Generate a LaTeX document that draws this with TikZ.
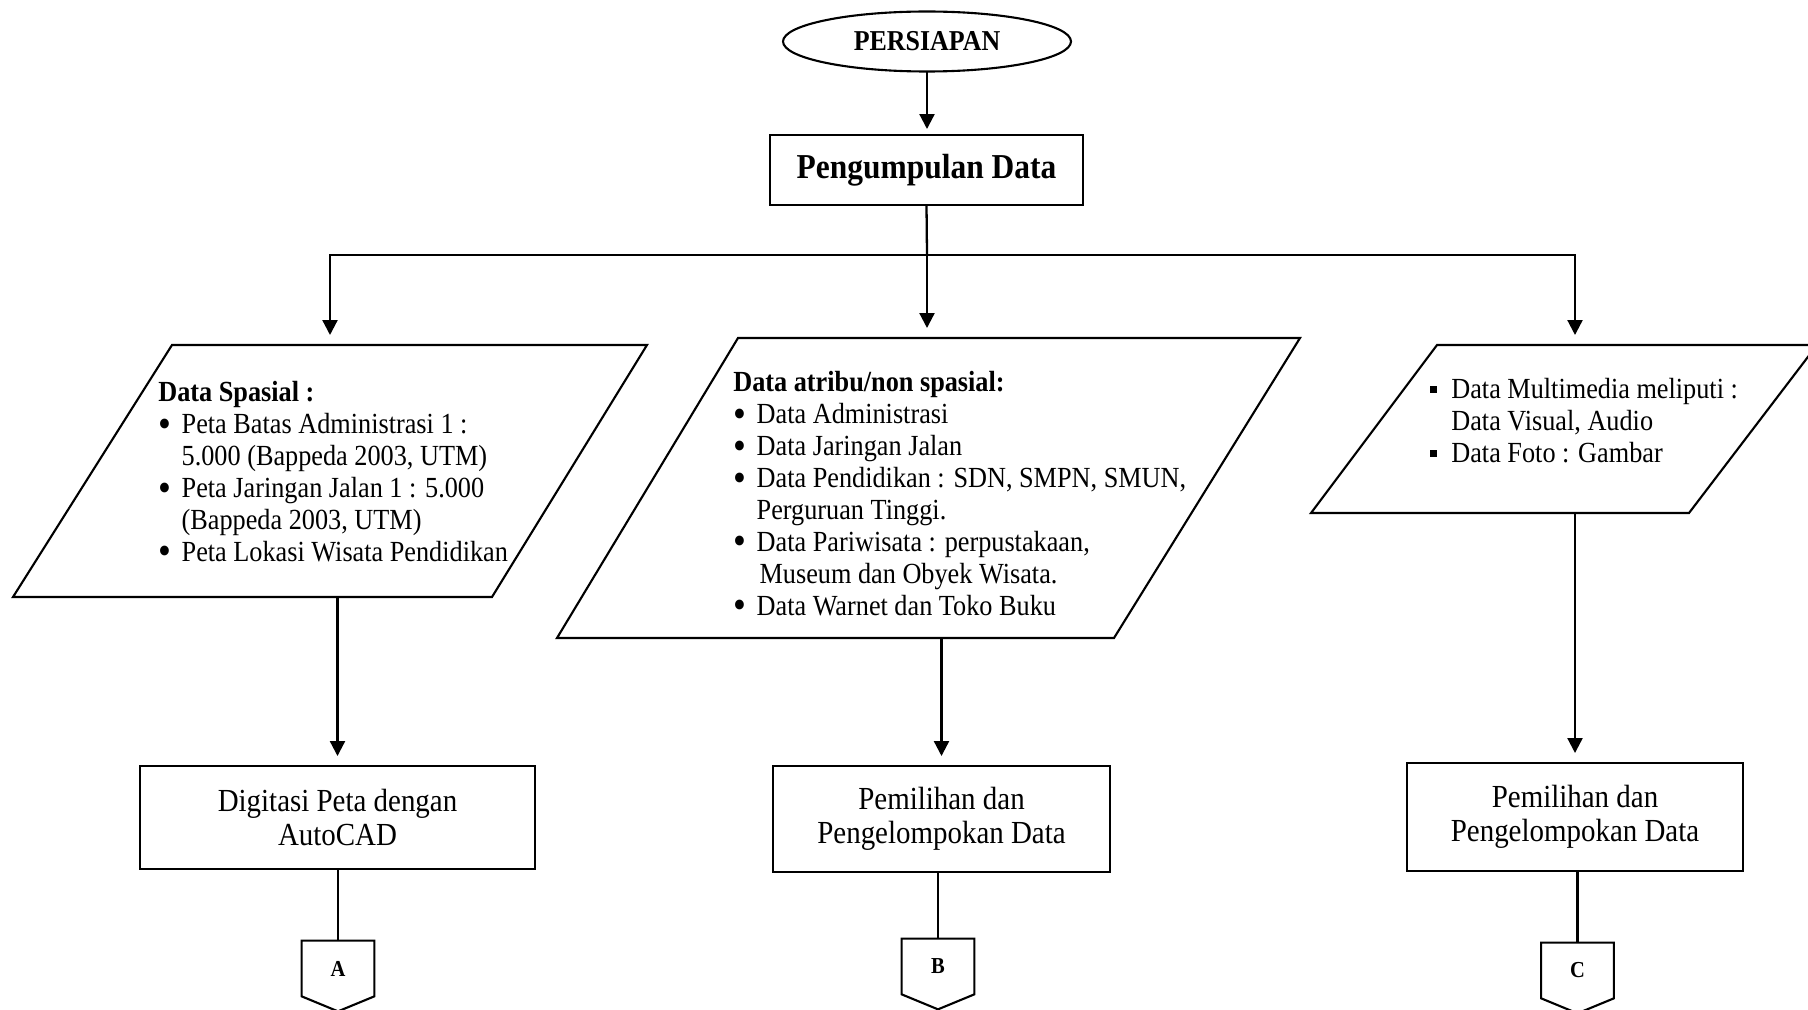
\documentclass[tikz,border=0pt]{standalone}
\usepackage{fontspec}
\usepackage{graphicx}
\setmainfont[FakeStretch=0.9]{Liberation Serif}
\usetikzlibrary{arrows.meta,shapes.geometric,calc}

\newcommand{\bul}{\makebox[0.8em][l]{\hspace{0.02em}\raisebox{-0.12em}{\scalebox{1.4}{•}}}}
\newcommand{\ind}{\hspace*{0.8em}}
\newcommand{\sqb}{\makebox[0.72em][l]{\rule[0.2em]{0.13cm}{0.13cm}}}

\tikzset{
  flowbox/.style={draw, line width=1.3pt, inner sep=0, outer sep=0, align=center,
    font=\fontsize{18.3}{19.4}\selectfont},
  inbox/.style={line width=1.2pt, line join=miter},
  listtext/.style={anchor=north west, inner sep=0, align=left,
    font=\fontsize{16.6}{18.2}\selectfont},
  offpage/.style={minimum width=1.44cm, minimum height=1.1cm, inner sep=0,
    font=\fontsize{13}{13}\selectfont\bfseries},
  link/.style={line width=1.3pt},
  arr/.style={link, -{Triangle[length=0.3cm,width=0.3cm]}, shorten >=0.2cm}
}

\begin{document}
\begin{tikzpicture}[x=0.02cm,y=-0.02cm]
\useasboundingbox (0,0) rectangle (1808,1010);
% Start
\node[ellipse, draw, line width=1.2pt, minimum width=5.76cm, minimum height=1.2cm,
  inner sep=0, outer sep=0, font=\fontsize{16.4}{16.4}\selectfont\bfseries]
  (persiapan) at (927,41.5) {PERSIAPAN};
\node[flowbox, minimum width=6.26cm, minimum height=1.4cm,
  font=\fontsize{19.9}{20}\selectfont\bfseries] (pengumpulan) at (926.5,170) {Pengumpulan Data};
\draw[arr, shorten >=0.12cm] (persiapan.south) -- (persiapan.south |- pengumpulan.north);
% Input data (parallelograms)
\draw[inbox] (172,345) coordinate (spasial) -- (647,345) -- (492,597) -- (13,597) -- cycle;
\draw[inbox] (738,338) coordinate (atribu) -- (1300,338) -- (1114,638) -- (557,638) -- cycle;
\draw[inbox] (1437,345) coordinate (multimedia) -- (1817,345) -- (1689,513) -- (1311,513) -- cycle;
\coordinate (spasialbot) at (0,597);
\coordinate (atribubot) at (0,638);
\coordinate (multimediabot) at (0,513);
\node[listtext] (spasialtxt) at (158,381) {\textbf{Data Spasial :}\\
  \bul Peta Batas Administrasi 1 :\\
  \ind 5.000 (Bappeda 2003, UTM)\\
  \bul Peta Jaringan Jalan 1 : 5.000\\
  \ind (Bappeda 2003, UTM)\\
  \bul Peta Lokasi Wisata Pendidikan};
\node[listtext] (atributxt) at (733,371) {\textbf{Data atribu/non spasial:}\\
  \bul Data Administrasi\\
  \bul Data Jaringan Jalan\\
  \bul Data Pendidikan : SDN, SMPN, SMUN,\\
  \ind Perguruan Tinggi.\\
  \bul Data Pariwisata : perpustakaan,\\
  \ind\hspace{0.1em}Museum dan Obyek Wisata.\\
  \bul Data Warnet dan Toko Buku};
\node[listtext] (multimediatxt) at (1430,378) {\sqb Data Multimedia meliputi :\\
  \hspace*{0.72em}Data Visual, Audio\\
  \sqb Data Foto : Gambar};
% Split
\coordinate (split) at (927,255);
\draw[link] (pengumpulan.south) -- (split);
\draw[arr] (split) -| (330,0 |- spasial);
\draw[arr] (split) -- (split |- atribu);
\draw[arr] (split) -| (1575,0 |- multimedia);
% Processing
\node[flowbox, minimum width=7.9cm, minimum height=2.06cm] (digitasi) at (337.5,817.5)
  {Digitasi Peta dengan\\AutoCAD};
\node[flowbox, minimum width=6.74cm, minimum height=2.12cm] (pemilihanB) at (941.5,819)
  {Pemilihan dan\\Pengelompokan Data};
\node[flowbox, minimum width=6.72cm, minimum height=2.16cm] (pemilihanC) at (1575,817)
  {Pemilihan dan\\Pengelompokan Data};
\draw[arr] (spasialbot -| digitasi.north) -- (digitasi.north);
\draw[arr] (atribubot -| pemilihanB.north) -- (pemilihanB.north);
\draw[arr] (multimediabot -| pemilihanC.north) -- (pemilihanC.north);
% Off-page connectors
\node[offpage] (conA) at (338,968.5) {A};
\node[offpage] (conB) at (938,966.5) {B};
\node[offpage] (conC) at (1577.5,970.5) {C};
\foreach \c in {conA,conB,conC}
  \draw[line width=1.2pt] (\c.north west) -- (\c.north east) -- (\c.south east)
    -- ($(\c.south)+(0,15)$) -- (\c.south west) -- cycle;
\draw[link] (digitasi.south -| conA.north) -- (conA.north);
\draw[link] (pemilihanB.south -| conB.north) -- (conB.north);
\draw[link] (pemilihanC.south -| conC.north) -- (conC.north);
\end{tikzpicture}
\end{document}
